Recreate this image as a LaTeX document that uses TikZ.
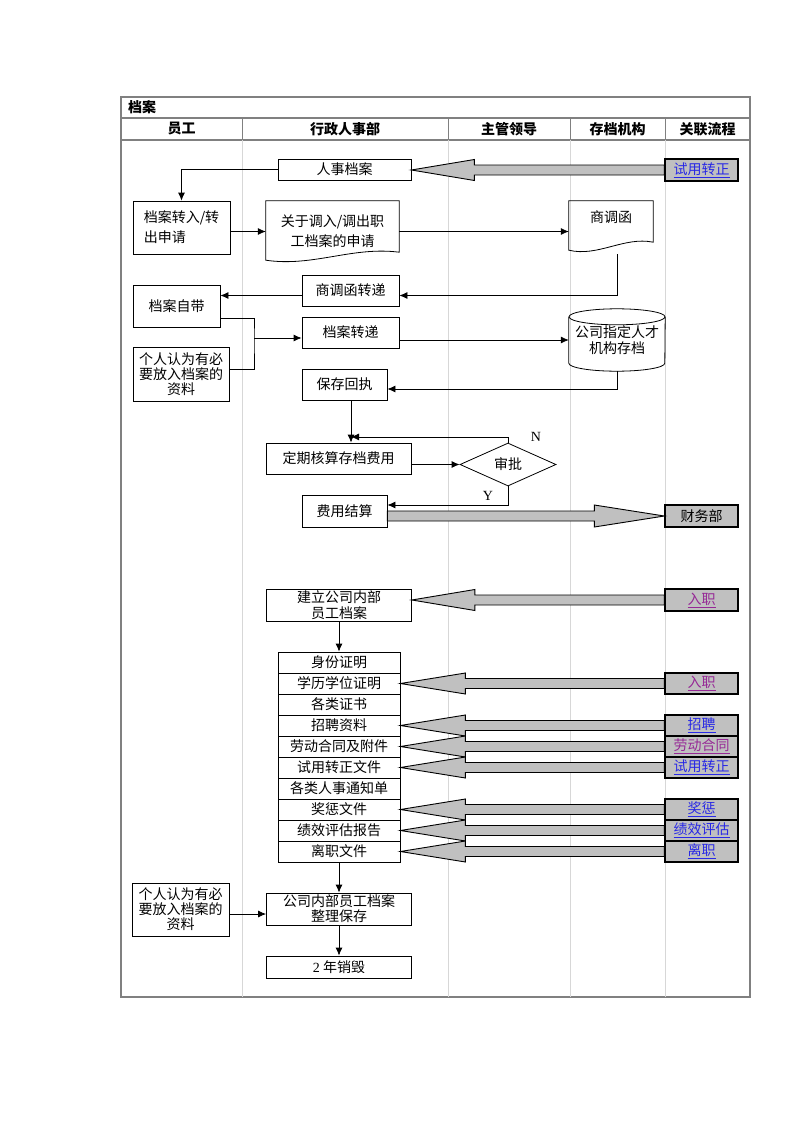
\documentclass[tikz,border=0pt]{standalone}
\usepackage{fontspec}
\setmainfont{Liberation Serif}
\newfontfamily\cjk{Noto Sans CJK SC}
\usetikzlibrary{arrows.meta,calc,shapes.geometric}

\definecolor{linkblue}{RGB}{40,40,230}
\definecolor{linkvisit}{RGB}{150,40,150}
\definecolor{fatgray}{RGB}{192,192,192}
\definecolor{framegray}{RGB}{128,128,128}
\definecolor{lanegray}{RGB}{215,215,215}

% wide grey arrow from a link box (#1) to the box it feeds (#2)
\newcommand{\fatarrow}[3]{%
  \filldraw[fat] let \p1=(#1.west), \p2=(#2.east) in
    (\x1,\y1+5pt) -- (\x2+#3,\y1+5pt) -- (\x2+#3,\y1+10.5pt) -- (\x2,\y1)
    -- (\x2+#3,\y1-10.5pt) -- (\x2+#3,\y1-5pt) -- (\x1,\y1-5pt) -- cycle;}

\begin{document}
\begin{tikzpicture}[x=1pt,y=-1pt,
        box/.style={draw,fill=white,line width=0.8pt,inner sep=0pt,align=center,
            font=\cjk\fontsize{14}{20}\selectfont},
        plain/.style={inner sep=0pt,align=center,font=\cjk\fontsize{14}{20}\selectfont},
        row/.style={box,minimum width=122,minimum height=21},
        linkbox/.style={draw,fill=fatgray,line width=1.3pt,inner sep=0pt,
            minimum width=73,minimum height=22,font=\cjk\fontsize{14}{16}\selectfont},
        head/.style={inner sep=0pt,font=\cjk\bfseries\fontsize{14}{16}\selectfont},
        lbl/.style={inner sep=0pt,font=\fontsize{14}{16}\selectfont},
        fat/.style={fill=fatgray,draw=black,line width=0.9pt},
        line/.style={line width=0.8pt},
        edge/.style={-{Latex[length=8pt,width=7pt]},line width=0.8pt}
    ]
        \useasboundingbox (0,0) rectangle (800,1132);

        % Draw the frame and the lanes
        \draw[framegray,line width=1.2pt] (121,97) rectangle (750,997);
        \draw[framegray,line width=1.2pt] (121,118) -- (750,118);
        \draw[framegray,line width=1.2pt] (121,140) -- (750,140);
        \draw[framegray,line width=1pt] (242,118) -- (242,140);
        \draw[framegray,line width=1pt] (448,118) -- (448,140);
        \draw[framegray,line width=1pt] (570,118) -- (570,140);
        \draw[framegray,line width=1pt] (665,118) -- (665,140);
        \draw[lanegray,line width=0.8pt] (242,140) -- (242,997);
        \draw[lanegray,line width=0.8pt] (448,140) -- (448,997);
        \draw[lanegray,line width=0.8pt] (570,140) -- (570,997);
        \draw[lanegray,line width=0.8pt] (665,140) -- (665,997);

        % Headings
        \node[head,anchor=west] (title) at (128,107.5) {档案};
        \node[head] (hyg) at (181.5,129) {员工};
        \node[head] (hxz) at (345,129) {行政人事部};
        \node[head] (hzg) at (509,129) {主管领导};
        \node[head] (hcd) at (617.5,129) {存档机构};
        \node[head] (hgl) at (707.5,129) {关联流程};

        % Define the nodes: transfer of the file
        \node[box,minimum width=133,minimum height=21] (rsda) at (344.5,169.5) {人事档案};
        \node[linkbox,text=linkblue] (syzz) at (701.5,170) {\underline{试用转正}};
        \node[box,minimum width=97,minimum height=53,align=left] (zrsq) at (181.5,227.5) {档案转入/转\\出申请};
        \node[plain,minimum width=133,minimum height=61] (sqdoc) at (332.5,231.5) {关于调入/调出职\\工档案的申请};
        \node[plain,minimum width=84,minimum height=51] (sdh) at (611,226.5) {商调函\\\mbox{}};
        \node[box,minimum width=97,minimum height=31] (sdzd) at (350.5,290.5) {商调函转递};
        \node[box,minimum width=87,minimum height=42] (dazd) at (176.5,306) {档案自带};
        \node[box,minimum width=96,minimum height=54,font=\cjk\fontsize{14}{15}\selectfont] (grzl) at (181,374) {个人认为有必\\要放入档案的\\资料};
        \node[box,minimum width=97,minimum height=31] (dazs) at (350.5,332.5) {档案转递};
        \node[plain,minimum width=96,minimum height=62,font=\cjk\fontsize{14}{16}\selectfont] (cyl) at (617,340) {公司指定人才\\机构存档};
        \node[box,minimum width=85,minimum height=31] (bchz) at (344.5,384.5) {保存回执};
        \node[box,minimum width=145,minimum height=31] (dqhs) at (338.5,458.5) {定期核算存档费用};
        \node[diamond,draw,fill=white,line width=0.8pt,aspect=2.2,inner sep=0pt,
            minimum width=96,minimum height=43,font=\cjk\fontsize{14}{16}\selectfont] (sp) at (508,464.5) {审批};
        \node[lbl] (nlab) at (536,437) {N};
        \node[lbl] (ylab) at (488,496) {Y};
        \node[box,minimum width=85,minimum height=32] (fyjs) at (344.5,511) {费用结算};
        \node[linkbox] (cwb) at (701.5,516) {财务部};

        % Document and storage shapes
        \draw[line] (sqdoc.north west) -- (sqdoc.north east) -- ($(sqdoc.south east)+(0,-10)$)
            .. controls ($(sqdoc.south east)+(-47,-16)$) and ($(sqdoc.south west)+(47,5)$) .. ($(sqdoc.south west)+(0,-2)$) -- cycle;
        \draw[line] (sdh.north west) -- (sdh.north east) -- ($(sdh.south east)+(0,-10)$)
            .. controls ($(sdh.south east)+(-29,-16)$) and ($(sdh.south west)+(29,5)$) .. ($(sdh.south west)+(0,-2)$) -- cycle;
        \draw[line] ($(cyl.north)+(0,8)$) ellipse [x radius=48pt,y radius=8pt];
        \draw[line] ($(cyl.north west)+(0,8)$) -- ($(cyl.south west)+(0,-8)$)
            arc[start angle=180,end angle=360,x radius=48pt,y radius=8pt] -- ($(cyl.north east)+(0,8)$);

        % Connectors of the upper part
        \coordinate (sdin) at ($(sdzd.east)+(0,5)$);
        \coordinate (sdout) at ($(sdzd.west)+(0,5)$);
        \coordinate (jn) at (254,338);
        \coordinate (bcin) at ($(bchz.east)+(0,4.5)$);
        \coordinate (fb) at ($(bchz.south)+(6.5,36.5)$);
        \coordinate (fyin) at ($(fyjs.east)+(0,-6)$);
        \draw[edge] (rsda.west) -| (zrsq.north);
        \draw[edge] (zrsq.east |- sqdoc.west) -- (sqdoc.west);
        \draw[edge] (sqdoc.east) -- (sqdoc.east -| sdh.west);
        \draw[edge] ($(sdh.south)+(6,2)$) |- (sdin);
        \draw[edge] (sdout) -- (sdout -| dazd.east);
        \draw[line] ($(dazd.east)+(0,12)$) -| (jn) |- ($(grzl.east)+(0,-5)$);
        \draw[edge] (jn) -- (jn -| dazs.west);
        \draw[edge] (cyl.west -| dazs.east) -- (cyl.west);
        \draw[edge] (cyl.south) |- (bcin);
        \draw[edge] ($(bchz.south)+(6.5,0)$) -- (fb |- dqhs.north);
        \draw[edge] (sp.north) |- (fb);
        \draw[edge] (sp.west -| dqhs.east) -- (sp.west);
        \draw[edge] (sp.south) |- (fyin);
        \fatarrow{syzz}{rsda}{63pt}
        \filldraw[fat] let \p1=(fyjs.east), \p2=(cwb.west) in
            (\x1,\y2+5pt) -- (\x2-70pt,\y2+5pt) -- (\x2-70pt,\y2+11pt) -- (\x2,\y2)
            -- (\x2-70pt,\y2-11pt) -- (\x2-70pt,\y2-5pt) -- (\x1,\y2-5pt) -- cycle;

        % Define the nodes: internal staff file
        \node[box,minimum width=145,minimum height=32,font=\cjk\fontsize{14}{16}\selectfont] (jlda) at (339,605) {建立公司内部\\员工档案};
        \node[linkbox,text=linkvisit] (rz) at (701.5,600) {\underline{入职}};
        \node[row] (r1) at (339,662.5) {身份证明};
        \node[row] (r2) at (339,683.5) {学历学位证明};
        \node[row] (r3) at (339,704.5) {各类证书};
        \node[row] (r4) at (339,725.5) {招聘资料};
        \node[row] (r5) at (339,746.5) {劳动合同及附件};
        \node[row] (r6) at (339,767.5) {试用转正文件};
        \node[row] (r7) at (339,788.5) {各类人事通知单};
        \node[row] (r8) at (339,809.5) {奖惩文件};
        \node[row] (r9) at (339,830.5) {绩效评估报告};
        \node[row] (r10) at (339,851.5) {离职文件};
        \node[linkbox,minimum height=21,text=linkvisit] (lk2) at (701.5,683.5) {\underline{入职}};
        \node[linkbox,minimum height=21,text=linkblue] (lk4) at (701.5,725.5) {\underline{招聘}};
        \node[linkbox,minimum height=21,text=linkvisit] (lk5) at (701.5,746.5) {\underline{劳动合同}};
        \node[linkbox,minimum height=21,text=linkblue] (lk6) at (701.5,767.5) {\underline{试用转正}};
        \node[linkbox,minimum height=21,text=linkblue] (lk8) at (701.5,809.5) {\underline{奖惩}};
        \node[linkbox,minimum height=21,text=linkblue] (lk9) at (701.5,830.5) {\underline{绩效评估}};
        \node[linkbox,minimum height=21,text=linkblue] (lk10) at (701.5,851.5) {\underline{离职}};
        \node[box,minimum width=145,minimum height=32,font=\cjk\fontsize{14}{15}\selectfont] (zlbc) at (339,909) {公司内部员工档案\\整理保存};
        \node[box,minimum width=97,minimum height=53,font=\cjk\fontsize{14}{15}\selectfont] (grzlb) at (180.5,909.5) {个人认为有必\\要放入档案的\\资料};
        \node[box,minimum width=145,minimum height=22] (xh) at (339,967) {\textrm{2} 年销毁};

        % Connectors of the lower part
        \coordinate (zlin) at ($(grzlb.east)+(0,4.5)$);
        \fatarrow{rz}{jlda}{63pt}
        \fatarrow{lk2}{r2}{65pt}
        \fatarrow{lk4}{r4}{65pt}
        \fatarrow{lk5}{r5}{65pt}
        \fatarrow{lk6}{r6}{65pt}
        \fatarrow{lk8}{r8}{65pt}
        \fatarrow{lk9}{r9}{65pt}
        \fatarrow{lk10}{r10}{65pt}
        \draw[edge] (jlda.south) -- (r1.north);
        \draw[edge] (r10.south) -- (zlbc.north);
        \draw[edge] (zlin) -- (zlin -| zlbc.west);
        \draw[edge] (zlbc.south) -- (xh.north);
    \end{tikzpicture}
\end{document}
